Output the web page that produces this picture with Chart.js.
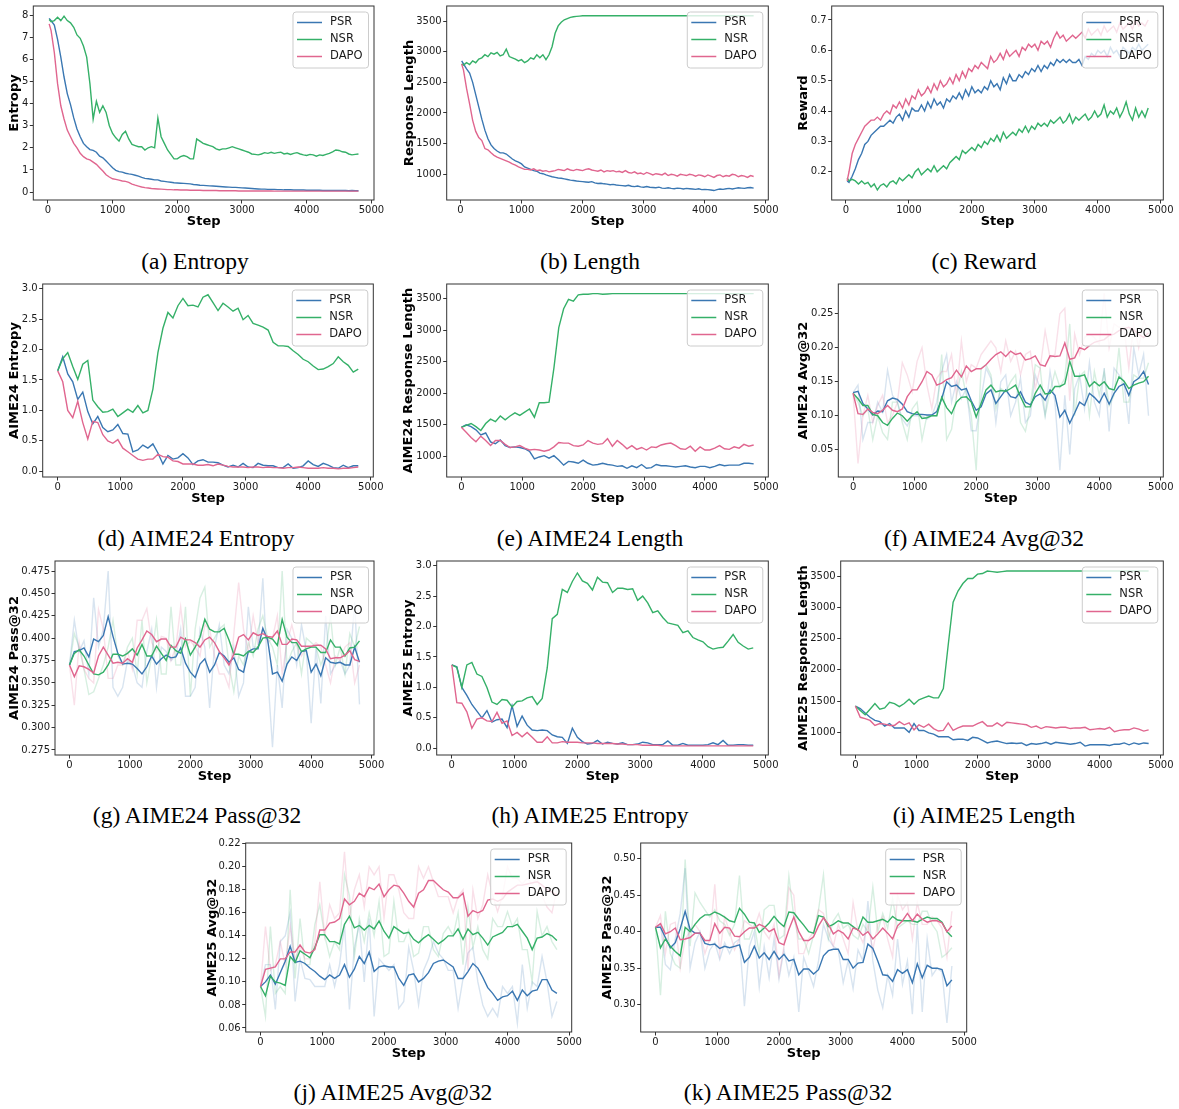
<!DOCTYPE html>
<html>
<head>
<meta charset="utf-8">
<script src="https://cdn.jsdelivr.net/npm/chart.js@4.4.1/dist/chart.umd.min.js"></script>
<style>
  html, body { margin: 0; padding: 0; background: #fff; overflow: hidden; }
  #page { position: relative; width: 1179px; height: 1109px; overflow: hidden; }
  canvas { position: absolute; }
  .cap {
    position: absolute;
    font-family: "Liberation Serif", "Times New Roman", serif;
    font-size: 23.5px;
    color: #000;
    white-space: nowrap;
    transform: translate(-50%, -50%);
  }
</style>
</head>
<body>
<div id="page"></div>
<script>
// ---- x values ----
const TRAIN_STEPS = [20,
  50,100,150,200,250,300,350,400,450,500,
  550,600,650,700,750,800,850,900,950,1000,
  1050,1100,1150,1200,1250,1300,1350,1400,1450,1500,
  1550,1600,1650,1700,1750,1800,1850,1900,1950,2000,
  2050,2100,2150,2200,2250,2300,2350,2400,2450,2500,
  2550,2600,2650,2700,2750,2800,2850,2900,2950,3000,
  3050,3100,3150,3200,3250,3300,3350,3400,3450,3500,
  3550,3600,3650,3700,3750,3800,3850,3900,3950,4000,
  4050,4100,4150,4200,4250,4300,4350,4400,4450,4500,
  4550,4600,4650,4700,4750,4800]

const EVAL_STEPS = [
  0,80,160,240,320,400,480,560,640,720,
  800,880,960,1040,1120,1200,1280,1360,1440,1520,
  1600,1680,1760,1840,1920,2000,2080,2160,2240,2320,
  2400,2480,2560,2640,2720,2800,2880,2960,3040,3120,
  3200,3280,3360,3440,3520,3600,3680,3760,3840,3920,
  4000,4080,4160,4240,4320,4400,4480,4560,4640,4720,
  4800]

// ---- tick labels ----
const STEP_TICKS = [0, 1000, 2000, 3000, 4000, 5000]
const ENT_TICKS = [0, 1, 2, 3, 4, 5, 6, 7, 8]
const LEN_TICKS = [1000, 1500, 2000, 2500, 3000, 3500]
const REW_TICKS = [0.2, 0.3, 0.4, 0.5, 0.6, 0.7]
const AIME_ENT_TICKS = [0, 0.5, 1.0, 1.5, 2.0, 2.5, 3.0]
const A24_AVG_TICKS = [0.05, 0.10, 0.15, 0.20, 0.25]
const A24_PASS_TICKS = [0.275, 0.300, 0.325, 0.350, 0.375, 0.400, 0.425, 0.450, 0.475]
const A25_AVG_TICKS = [0.06, 0.08, 0.10, 0.12, 0.14, 0.16, 0.18, 0.20, 0.22]
const A25_PASS_TICKS = [0.30, 0.35, 0.40, 0.45, 0.50]

// ---- (a) entropy ----
const ENT_PSR = [
  7.85,7.75,7.55,6.9,6.1,5.2,4.45,3.95,3.35,2.85,
  2.5,2.2,2.05,1.92,1.88,1.8,1.62,1.55,1.4,1.25,
  1.1,0.98,0.92,0.9,0.85,0.82,0.8,0.76,0.72,0.66,
  0.62,0.6,0.58,0.55,0.55,0.5,0.48,0.46,0.44,0.42,
  0.41,0.4,0.39,0.38,0.37,0.34,0.33,0.31,0.3,0.29,
  0.28,0.27,0.26,0.25,0.24,0.23,0.22,0.21,0.21,0.2,
  0.19,0.18,0.17,0.16,0.15,0.14,0.13,0.13,0.12,0.12,
  0.12,0.11,0.11,0.1,0.1,0.1,0.09,0.09,0.09,0.09,
  0.08,0.08,0.08,0.08,0.08,0.07,0.07,0.07,0.07,0.07,
  0.07,0.07,0.07,0.06,0.07,0.06,0.06]
const ENT_NSR = [
  7.8,7.7,7.75,7.9,7.75,7.95,7.75,7.65,7.45,7.1,
  6.95,6.6,6.1,4.9,3.3,4.1,3.6,3.9,3.6,3.0,
  2.65,2.45,2.3,2.6,2.75,2.4,2.15,2.1,2.05,2.05,
  1.9,2.0,2.05,2.0,3.35,2.5,2.2,1.9,1.7,1.5,
  1.5,1.6,1.65,1.6,1.5,1.5,2.4,2.3,2.2,2.15,
  2.1,2.05,1.95,1.9,1.95,1.95,2.0,2.05,2.0,1.95,
  1.9,1.85,1.8,1.72,1.7,1.68,1.72,1.78,1.75,1.8,
  1.75,1.78,1.8,1.72,1.75,1.7,1.75,1.78,1.72,1.68,
  1.65,1.7,1.68,1.62,1.68,1.65,1.7,1.75,1.82,1.9,
  1.88,1.82,1.8,1.72,1.68,1.7,1.72]
const ENT_DAPO = [
  7.6,7.3,6.3,4.9,3.9,3.3,2.8,2.5,2.2,2.0,
  1.75,1.6,1.5,1.45,1.35,1.25,1.1,0.95,0.78,0.68,
  0.6,0.57,0.54,0.5,0.48,0.44,0.36,0.31,0.27,0.23,
  0.2,0.18,0.16,0.15,0.14,0.13,0.12,0.11,0.11,0.1,
  0.1,0.09,0.09,0.09,0.08,0.08,0.08,0.08,0.07,0.07,
  0.07,0.07,0.07,0.06,0.06,0.06,0.06,0.06,0.06,0.05,
  0.05,0.05,0.05,0.05,0.05,0.05,0.05,0.05,0.05,0.05,
  0.04,0.04,0.04,0.04,0.04,0.04,0.04,0.04,0.04,0.04,
  0.04,0.04,0.04,0.04,0.04,0.04,0.04,0.04,0.04,0.04,
  0.04,0.04,0.04,0.04,0.04,0.04,0.04]

// ---- (b) response length ----
const LEN_PSR = [
  2850,2800,2720,2650,2500,2300,2100,1900,1720,1580,
  1480,1420,1380,1350,1350,1330,1290,1250,1220,1200,
  1170,1120,1100,1080,1060,1050,1020,1010,990,975,
  960,950,940,935,925,915,905,900,890,885,
  880,875,870,880,860,850,855,845,840,830,
  835,825,820,815,810,820,805,800,810,795,
  790,800,790,785,780,790,775,770,780,770,
  765,775,770,760,770,765,760,755,765,750,
  755,750,745,735,750,760,755,765,770,760,
  770,780,775,770,780,785,775]
const LEN_NSR = [
  2800,2780,2820,2790,2850,2820,2880,2900,2950,2920,
  2980,2960,2990,2930,2950,3040,2920,2900,2880,2850,
  2870,2820,2850,2900,2880,2950,2900,2950,2870,2950,
  3080,3300,3420,3480,3520,3540,3560,3570,3575,3580,
  3585,3585,3585,3585,3585,3585,3585,3585,3585,3585,
  3585,3585,3585,3585,3585,3585,3585,3585,3585,3585,
  3585,3585,3585,3585,3585,3585,3585,3585,3585,3585,
  3585,3585,3585,3585,3585,3585,3585,3585,3585,3585,
  3585,3585,3585,3585,3585,3585,3585,3585,3585,3585,
  3585,3585,3585,3585,3585,3585,3585]
const LEN_DAPO = [
  2800,2700,2400,2150,1880,1700,1600,1550,1420,1400,
  1350,1310,1280,1260,1240,1220,1200,1170,1150,1120,
  1100,1080,1080,1070,1090,1060,1070,1050,1060,1040,
  1050,1060,1080,1070,1060,1090,1070,1060,1080,1070,
  1060,1080,1090,1070,1060,1050,1070,1040,1060,1050,
  1060,1040,1050,1030,1060,1030,1020,1040,1010,1020,
  1000,1030,1010,990,1010,1000,990,1020,980,1000,
  990,970,1000,990,980,1000,990,970,990,980,
  960,990,970,950,980,990,960,980,970,1000,
  990,960,980,970,950,980,965]

// ---- (c) reward ----
const REW_PSR = [
  0.17,0.165,0.185,0.21,0.24,0.26,0.29,0.3,0.32,0.33,
  0.34,0.35,0.35,0.36,0.37,0.36,0.38,0.39,0.37,0.4,
  0.38,0.41,0.4,0.4,0.42,0.4,0.43,0.41,0.44,0.42,
  0.43,0.41,0.44,0.43,0.45,0.44,0.46,0.44,0.47,0.45,
  0.48,0.46,0.47,0.46,0.48,0.47,0.5,0.48,0.49,0.47,
  0.51,0.49,0.52,0.5,0.5,0.52,0.51,0.53,0.52,0.54,
  0.53,0.55,0.53,0.55,0.54,0.56,0.55,0.57,0.56,0.57,
  0.56,0.57,0.56,0.56,0.57,0.55,0.58,0.57,0.59,0.58,
  0.6,0.59,0.6,0.58,0.61,0.59,0.6,0.58,0.61,0.6,
  0.59,0.61,0.6,0.62,0.6,0.61,0.62]
const REW_NSR = [
  0.18,0.17,0.175,0.17,0.16,0.17,0.16,0.165,0.15,0.16,
  0.14,0.155,0.16,0.15,0.165,0.17,0.16,0.18,0.17,0.18,
  0.19,0.18,0.2,0.21,0.19,0.2,0.21,0.2,0.22,0.2,
  0.21,0.22,0.21,0.23,0.24,0.25,0.24,0.27,0.26,0.27,
  0.28,0.27,0.29,0.28,0.3,0.29,0.31,0.3,0.32,0.3,
  0.33,0.31,0.32,0.33,0.32,0.34,0.33,0.35,0.33,0.35,
  0.34,0.36,0.35,0.36,0.35,0.37,0.36,0.37,0.38,0.36,
  0.37,0.39,0.36,0.38,0.37,0.38,0.39,0.37,0.38,0.4,
  0.38,0.39,0.42,0.38,0.4,0.39,0.41,0.38,0.4,0.43,
  0.39,0.37,0.41,0.38,0.4,0.38,0.41]
const REW_DAPO = [
  0.17,0.2,0.26,0.29,0.31,0.33,0.35,0.36,0.37,0.37,
  0.38,0.37,0.39,0.4,0.39,0.42,0.41,0.43,0.41,0.44,
  0.42,0.45,0.44,0.47,0.45,0.46,0.48,0.46,0.49,0.47,
  0.5,0.48,0.49,0.51,0.49,0.52,0.5,0.53,0.51,0.54,
  0.53,0.55,0.54,0.56,0.55,0.54,0.58,0.56,0.57,0.59,
  0.57,0.6,0.58,0.59,0.6,0.58,0.61,0.6,0.62,0.61,
  0.62,0.6,0.63,0.62,0.63,0.61,0.64,0.66,0.64,0.65,
  0.63,0.64,0.65,0.64,0.65,0.66,0.64,0.67,0.65,0.66,
  0.67,0.65,0.68,0.66,0.67,0.68,0.66,0.69,0.67,0.68,
  0.69,0.67,0.7,0.68,0.69,0.68,0.7]

// ---- (d) AIME24 entropy ----
const A24_ENT_PSR = [
  1.65,1.88,1.6,1.47,1.18,1.3,0.98,0.78,0.9,0.72,
  0.65,0.68,0.77,0.62,0.61,0.32,0.35,0.43,0.38,0.45,
  0.3,0.12,0.26,0.2,0.22,0.29,0.22,0.11,0.17,0.19,
  0.15,0.15,0.14,0.1,0.07,0.1,0.07,0.13,0.07,0.06,
  0.13,0.1,0.09,0.09,0.06,0.06,0.12,0.05,0.06,0.09,
  0.17,0.11,0.08,0.13,0.1,0.06,0.05,0.1,0.06,0.09,
  0.09]
const A24_ENT_NSR = [
  1.65,1.85,1.95,1.72,1.51,1.76,1.82,1.17,1.06,0.97,
  0.98,1.02,0.9,0.96,1.02,0.97,1.08,0.96,1.0,1.35,
  1.95,2.35,2.61,2.52,2.72,2.84,2.72,2.73,2.7,2.86,
  2.9,2.77,2.64,2.76,2.7,2.63,2.68,2.49,2.56,2.43,
  2.4,2.37,2.32,2.12,2.06,2.06,2.05,1.98,1.92,1.84,
  1.8,1.73,1.67,1.68,1.72,1.77,1.88,1.8,1.74,1.63,
  1.68]
const A24_ENT_DAPO = [
  1.65,1.47,1.0,0.88,1.15,0.8,0.53,0.82,0.8,0.6,
  0.5,0.46,0.52,0.38,0.32,0.26,0.2,0.18,0.2,0.2,
  0.28,0.24,0.23,0.17,0.16,0.12,0.12,0.12,0.1,0.1,
  0.11,0.09,0.12,0.1,0.08,0.07,0.07,0.07,0.06,0.07,
  0.07,0.06,0.07,0.06,0.06,0.05,0.06,0.06,0.07,0.06,
  0.05,0.05,0.05,0.06,0.05,0.05,0.04,0.05,0.05,0.06,
  0.07]

// ---- (e) AIME24 length ----
const A24_LEN_PSR = [
  1460,1500,1470,1420,1340,1370,1230,1200,1260,1170,
  1140,1150,1140,1120,1080,960,990,1010,970,1010,
  940,860,920,910,890,940,890,860,870,890,
  870,860,840,850,810,850,820,870,810,820,
  870,850,850,840,830,840,850,830,820,840,
  840,820,840,870,850,860,860,860,890,890,
  880]
const A24_LEN_NSR = [
  1460,1490,1520,1470,1410,1520,1590,1550,1640,1580,
  1640,1690,1650,1700,1750,1620,1850,1850,1860,2400,
  3040,3340,3490,3460,3560,3570,3570,3580,3580,3570,
  3575,3580,3580,3580,3580,3580,3580,3580,3580,3580,
  3580,3580,3580,3580,3580,3580,3580,3580,3580,3580,
  3580,3580,3580,3580,3580,3580,3580,3580,3580,3580,
  3580]
const A24_LEN_DAPO = [
  1460,1380,1300,1230,1320,1250,1170,1250,1250,1190,
  1140,1150,1170,1130,1100,1110,1100,1080,1100,1150,
  1220,1210,1210,1170,1160,1180,1250,1210,1190,1200,
  1280,1160,1250,1190,1120,1170,1110,1140,1100,1150,
  1140,1180,1200,1210,1170,1120,1110,1160,1080,1150,
  1100,1100,1130,1170,1120,1110,1150,1130,1190,1160,
  1180]

// ---- (f) AIME24 avg@32 (smoothed + raw) ----
const A24_AVG_PSR = [
  0.134,0.136,0.118,0.11,0.101,0.107,0.106,0.122,0.126,0.124,
  0.117,0.106,0.103,0.102,0.102,0.101,0.101,0.106,0.125,0.15,
  0.143,0.145,0.138,0.14,0.122,0.108,0.113,0.132,0.138,0.118,
  0.128,0.138,0.128,0.126,0.135,0.12,0.116,0.128,0.132,0.123,
  0.138,0.13,0.098,0.108,0.089,0.104,0.12,0.115,0.133,0.127,
  0.119,0.133,0.117,0.133,0.143,0.147,0.13,0.15,0.155,0.165,
  0.146]
const A24_AVG_NSR = [
  0.133,0.125,0.115,0.115,0.102,0.1,0.09,0.086,0.096,0.104,
  0.1,0.092,0.1,0.106,0.096,0.097,0.1,0.1,0.127,0.112,
  0.103,0.12,0.127,0.128,0.12,0.098,0.118,0.138,0.145,0.135,
  0.137,0.136,0.14,0.145,0.128,0.113,0.113,0.133,0.145,0.132,
  0.133,0.143,0.143,0.147,0.18,0.158,0.158,0.16,0.143,0.15,
  0.144,0.15,0.14,0.138,0.157,0.151,0.14,0.145,0.148,0.15,
  0.158]
const A24_AVG_DAPO = [
  0.133,0.103,0.102,0.11,0.105,0.103,0.108,0.115,0.108,0.106,
  0.11,0.128,0.138,0.138,0.15,0.165,0.16,0.145,0.148,0.153,
  0.156,0.167,0.157,0.173,0.165,0.169,0.169,0.175,0.183,0.19,
  0.194,0.187,0.195,0.19,0.192,0.182,0.184,0.188,0.175,0.173,
  0.188,0.187,0.188,0.207,0.183,0.185,0.2,0.197,0.203,0.208,
  0.21,0.212,0.218,0.22,0.225,0.228,0.23,0.226,0.22,0.215,
  0.222]
const A24_AVG_PSR_RAW = [
  0.134,0.145,0.065,0.09,0.09,0.12,0.105,0.167,0.13,0.12,
  0.095,0.085,0.1,0.1,0.1,0.095,0.1,0.12,0.165,0.19,
  0.12,0.15,0.125,0.14,0.078,0.078,0.125,0.17,0.155,0.09,
  0.15,0.16,0.1,0.12,0.155,0.09,0.1,0.16,0.14,0.1,
  0.165,0.12,0.02,0.13,0.043,0.14,0.16,0.11,0.178,0.12,
  0.1,0.17,0.077,0.17,0.16,0.15,0.088,0.2,0.16,0.19,
  0.1]
const A24_AVG_NSR_RAW = [
  0.133,0.12,0.1,0.11,0.065,0.1,0.075,0.065,0.12,0.12,
  0.09,0.065,0.11,0.12,0.065,0.1,0.1,0.1,0.19,0.065,
  0.08,0.13,0.165,0.13,0.1,0.02,0.17,0.175,0.16,0.11,
  0.14,0.135,0.15,0.16,0.09,0.077,0.113,0.175,0.17,0.1,
  0.135,0.165,0.142,0.155,0.235,0.1,0.158,0.165,0.1,0.165,
  0.13,0.165,0.115,0.13,0.2,0.12,0.12,0.16,0.155,0.155,
  0.178]
const A24_AVG_DAPO_RAW = [
  0.133,0.03,0.1,0.13,0.09,0.115,0.13,0.09,0.1,0.12,
  0.178,0.16,0.135,0.18,0.2,0.145,0.11,0.155,0.165,0.165,
  0.19,0.13,0.21,0.15,0.175,0.17,0.19,0.2,0.21,0.2,
  0.165,0.21,0.18,0.195,0.16,0.19,0.195,0.14,0.17,0.225,
  0.185,0.19,0.25,0.258,0.122,0.22,0.19,0.215,0.22,0.215,
  0.205,0.28,0.2,0.235,0.23,0.23,0.17,0.235,0.2,0.24,
  0.225]

// ---- (g) AIME24 pass@32 ----
const A24_PASS_PSR = [
  0.37,0.385,0.386,0.389,0.379,0.399,0.396,0.403,0.424,0.402,
  0.383,0.371,0.372,0.371,0.366,0.36,0.368,0.38,0.371,0.377,
  0.381,0.378,0.379,0.389,0.372,0.362,0.356,0.371,0.377,0.362,
  0.37,0.384,0.38,0.373,0.378,0.365,0.362,0.385,0.388,0.388,
  0.411,0.398,0.36,0.362,0.352,0.371,0.379,0.375,0.385,0.386,
  0.362,0.371,0.358,0.378,0.373,0.372,0.373,0.37,0.37,0.39,
  0.373]
const A24_PASS_NSR = [
  0.37,0.383,0.387,0.38,0.37,0.36,0.359,0.362,0.37,0.382,
  0.382,0.38,0.383,0.388,0.381,0.393,0.38,0.38,0.391,0.383,
  0.375,0.392,0.386,0.383,0.399,0.381,0.39,0.401,0.421,0.41,
  0.407,0.407,0.411,0.398,0.382,0.382,0.38,0.385,0.384,0.39,
  0.4,0.401,0.399,0.392,0.421,0.401,0.395,0.395,0.385,0.388,
  0.39,0.39,0.384,0.384,0.398,0.39,0.39,0.38,0.389,0.39,
  0.397]
const A24_PASS_DAPO = [
  0.37,0.357,0.369,0.368,0.365,0.361,0.38,0.39,0.381,0.372,
  0.373,0.372,0.377,0.373,0.389,0.398,0.408,0.404,0.396,0.399,
  0.399,0.39,0.39,0.401,0.398,0.398,0.395,0.39,0.398,0.401,
  0.395,0.385,0.378,0.37,0.382,0.401,0.404,0.398,0.406,0.403,
  0.405,0.402,0.401,0.408,0.393,0.393,0.399,0.398,0.391,0.391,
  0.391,0.392,0.392,0.388,0.377,0.378,0.378,0.381,0.386,0.376,
  0.374]
const A24_PASS_PSR_RAW = [
  0.37,0.42,0.385,0.397,0.36,0.445,0.39,0.41,0.475,0.345,
  0.335,0.345,0.375,0.37,0.35,0.345,0.385,0.41,0.345,0.39,
  0.385,0.375,0.38,0.41,0.335,0.335,0.345,0.41,0.39,0.322,
  0.39,0.415,0.37,0.36,0.39,0.335,0.35,0.435,0.39,0.39,
  0.467,0.36,0.278,0.37,0.322,0.41,0.4,0.37,0.415,0.385,
  0.305,0.39,0.327,0.425,0.36,0.37,0.375,0.36,0.37,0.44,
  0.326]
const A24_PASS_NSR_RAW = [
  0.37,0.405,0.39,0.365,0.337,0.34,0.355,0.37,0.39,0.42,
  0.38,0.37,0.39,0.4,0.36,0.42,0.35,0.38,0.42,0.36,
  0.36,0.435,0.37,0.37,0.435,0.335,0.41,0.445,0.457,0.39,
  0.4,0.41,0.415,0.37,0.34,0.38,0.37,0.395,0.38,0.41,
  0.425,0.4,0.39,0.37,0.475,0.37,0.385,0.395,0.36,0.4,
  0.395,0.39,0.37,0.385,0.425,0.37,0.39,0.36,0.405,0.39,
  0.413]
const A24_PASS_DAPO_RAW = [
  0.37,0.325,0.395,0.365,0.355,0.35,0.432,0.41,0.355,0.355,
  0.37,0.37,0.385,0.365,0.42,0.42,0.433,0.395,0.385,0.402,
  0.4,0.375,0.39,0.435,0.39,0.397,0.39,0.38,0.415,0.41,
  0.38,0.36,0.36,0.345,0.405,0.462,0.41,0.385,0.425,0.395,
  0.41,0.395,0.4,0.425,0.36,0.395,0.415,0.393,0.38,0.39,
  0.39,0.395,0.39,0.37,0.35,0.38,0.375,0.39,0.395,0.35,
  0.37]

// ---- (h) AIME25 entropy ----
const A25_ENT_PSR = [
  1.37,1.34,1.0,0.87,0.72,0.61,0.5,0.62,0.43,0.47,
  0.48,0.34,0.7,0.36,0.53,0.38,0.3,0.29,0.3,0.29,
  0.22,0.19,0.18,0.08,0.33,0.18,0.11,0.07,0.08,0.13,
  0.07,0.1,0.08,0.07,0.09,0.06,0.06,0.07,0.1,0.09,
  0.06,0.06,0.06,0.12,0.05,0.05,0.08,0.05,0.05,0.05,
  0.05,0.06,0.09,0.06,0.13,0.05,0.05,0.06,0.06,0.05,
  0.05]
const A25_ENT_NSR = [
  1.37,1.33,1.0,1.37,1.41,1.22,1.18,1.0,0.76,0.72,
  0.8,0.79,0.68,0.77,0.78,0.83,0.85,0.72,0.82,1.32,
  2.13,2.2,2.61,2.56,2.74,2.88,2.75,2.71,2.6,2.81,
  2.73,2.72,2.56,2.63,2.63,2.61,2.62,2.43,2.5,2.39,
  2.23,2.26,2.15,2.06,2.04,2.02,1.9,1.93,1.82,1.78,
  1.75,1.67,1.63,1.65,1.66,1.76,1.87,1.74,1.68,1.63,
  1.65]
const A25_ENT_DAPO = [
  1.37,0.75,0.74,0.6,0.33,0.48,0.5,0.45,0.44,0.59,
  0.41,0.45,0.21,0.26,0.19,0.26,0.18,0.1,0.1,0.19,
  0.09,0.09,0.11,0.1,0.1,0.1,0.09,0.09,0.09,0.08,
  0.08,0.08,0.08,0.07,0.07,0.06,0.06,0.06,0.05,0.05,
  0.05,0.05,0.04,0.04,0.04,0.04,0.04,0.04,0.04,0.04,
  0.04,0.04,0.04,0.04,0.04,0.04,0.04,0.04,0.04,0.04,
  0.04]

// ---- (i) AIME25 length ----
const A25_LEN_PSR = [
  1420,1380,1310,1240,1190,1170,1100,1140,1070,1070,
  1070,1000,1140,1030,1030,990,970,930,930,930,
  880,890,890,870,920,910,870,830,850,860,
  840,820,830,820,830,790,820,810,820,840,
  810,840,830,820,810,820,840,780,800,800,
  800,800,790,810,810,830,800,830,810,830,
  820]
const A25_LEN_NSR = [
  1420,1350,1280,1370,1460,1370,1390,1480,1460,1410,
  1460,1530,1450,1520,1550,1580,1550,1550,1700,2400,
  3080,3260,3380,3460,3460,3530,3540,3580,3570,3560,
  3570,3580,3580,3580,3580,3580,3580,3580,3580,3580,
  3580,3580,3580,3580,3580,3580,3580,3580,3580,3580,
  3580,3580,3580,3580,3580,3580,3580,3580,3580,3580,
  3580]
const A25_LEN_DAPO = [
  1420,1240,1220,1190,1110,1140,1130,1110,1110,1170,
  1120,1150,1040,1120,1080,1130,1060,1020,1030,1150,
  1030,1070,1100,1100,1100,1140,1170,1100,1100,1150,
  1100,1160,1150,1140,1130,1120,1080,1100,1060,1090,
  1080,1070,1080,1080,1060,1070,1070,1080,1040,1050,
  1060,1050,1080,1010,1030,1040,1040,1070,1050,1020,
  1040]

// ---- (j) AIME25 avg@32 ----
const A25_AVG_PSR = [
  0.096,0.1,0.106,0.098,0.108,0.118,0.131,0.117,0.118,0.116,
  0.112,0.109,0.105,0.102,0.106,0.103,0.106,0.115,0.104,0.111,
  0.122,0.116,0.126,0.109,0.113,0.114,0.113,0.113,0.103,0.097,
  0.106,0.107,0.1,0.103,0.108,0.116,0.118,0.119,0.116,0.113,
  0.103,0.103,0.109,0.116,0.112,0.104,0.095,0.09,0.084,0.087,
  0.088,0.092,0.084,0.093,0.088,0.092,0.093,0.102,0.102,0.093,
  0.09]
const A25_AVG_NSR = [
  0.096,0.088,0.105,0.1,0.099,0.097,0.122,0.117,0.127,0.124,
  0.121,0.13,0.141,0.141,0.135,0.135,0.133,0.15,0.157,0.147,
  0.149,0.145,0.149,0.146,0.153,0.144,0.138,0.148,0.145,0.142,
  0.143,0.137,0.134,0.138,0.141,0.137,0.133,0.136,0.14,0.14,
  0.146,0.137,0.146,0.141,0.143,0.138,0.132,0.139,0.141,0.143,
  0.148,0.148,0.15,0.144,0.138,0.128,0.138,0.139,0.142,0.14,
  0.136]
const A25_AVG_DAPO = [
  0.096,0.111,0.112,0.113,0.12,0.12,0.126,0.126,0.132,0.126,
  0.125,0.128,0.145,0.145,0.151,0.152,0.155,0.172,0.167,0.17,
  0.177,0.174,0.182,0.18,0.185,0.174,0.18,0.184,0.183,0.177,
  0.17,0.165,0.177,0.18,0.188,0.188,0.184,0.18,0.178,0.173,
  0.173,0.177,0.157,0.162,0.16,0.162,0.171,0.172,0.17,0.172,
  0.178,0.181,0.184,0.184,0.185,0.186,0.187,0.184,0.18,0.178,
  0.175]
const A25_AVG_PSR_RAW = [
  0.096,0.115,0.115,0.076,0.135,0.14,0.16,0.083,0.12,0.103,
  0.102,0.096,0.096,0.096,0.115,0.096,0.115,0.15,0.076,0.13,
  0.15,0.1,0.155,0.07,0.12,0.115,0.11,0.115,0.077,0.083,
  0.13,0.11,0.08,0.11,0.12,0.135,0.125,0.12,0.11,0.11,
  0.077,0.103,0.125,0.13,0.1,0.08,0.07,0.077,0.07,0.096,
  0.09,0.096,0.064,0.115,0.077,0.1,0.096,0.122,0.1,0.07,
  0.083]
const A25_AVG_NSR_RAW = [
  0.096,0.07,0.148,0.09,0.096,0.09,0.18,0.103,0.155,0.115,
  0.115,0.15,0.167,0.14,0.122,0.135,0.128,0.193,0.175,0.122,
  0.155,0.135,0.16,0.14,0.17,0.122,0.125,0.17,0.135,0.135,
  0.145,0.122,0.125,0.148,0.148,0.128,0.122,0.142,0.148,0.14,
  0.16,0.115,0.165,0.13,0.148,0.128,0.12,0.155,0.148,0.148,
  0.161,0.148,0.155,0.128,0.128,0.1,0.161,0.14,0.148,0.135,
  0.128]
const A25_AVG_DAPO_RAW = [
  0.096,0.148,0.11,0.115,0.135,0.115,0.148,0.12,0.13,0.12,
  0.12,0.135,0.187,0.14,0.167,0.155,0.16,0.213,0.155,0.18,
  0.193,0.165,0.2,0.193,0.2,0.155,0.193,0.193,0.18,0.16,
  0.155,0.155,0.2,0.19,0.2,0.187,0.174,0.174,0.174,0.16,
  0.174,0.18,0.11,0.18,0.155,0.167,0.193,0.175,0.161,0.175,
  0.2,0.19,0.19,0.185,0.19,0.185,0.19,0.175,0.165,0.16,
  0.18]

// ---- (k) AIME25 pass@32 ----
const A25_PASS_PSR = [
  0.406,0.406,0.392,0.378,0.385,0.404,0.428,0.403,0.398,0.398,
  0.384,0.382,0.383,0.377,0.38,0.378,0.38,0.382,0.358,0.365,
  0.38,0.364,0.371,0.362,0.373,0.362,0.369,0.36,0.362,0.341,
  0.349,0.349,0.342,0.348,0.367,0.374,0.376,0.376,0.362,0.362,
  0.35,0.357,0.358,0.383,0.377,0.36,0.341,0.34,0.332,0.348,
  0.343,0.348,0.33,0.356,0.337,0.354,0.35,0.35,0.348,0.326,
  0.334]
const A25_PASS_NSR = [
  0.406,0.378,0.39,0.38,0.373,0.367,0.406,0.4,0.41,0.418,
  0.423,0.423,0.427,0.424,0.42,0.415,0.413,0.432,0.424,0.413,
  0.412,0.399,0.405,0.412,0.421,0.413,0.407,0.427,0.426,0.417,
  0.409,0.4,0.398,0.422,0.42,0.407,0.41,0.415,0.412,0.412,
  0.407,0.402,0.42,0.413,0.413,0.415,0.417,0.413,0.421,0.416,
  0.415,0.415,0.415,0.413,0.417,0.42,0.418,0.418,0.413,0.4,
  0.393]
const A25_PASS_DAPO = [
  0.406,0.411,0.397,0.4,0.405,0.389,0.39,0.392,0.398,0.398,
  0.388,0.388,0.411,0.398,0.406,0.405,0.394,0.393,0.4,0.405,
  0.405,0.41,0.407,0.4,0.404,0.385,0.382,0.403,0.42,0.4,
  0.388,0.388,0.393,0.408,0.419,0.41,0.397,0.402,0.398,0.39,
  0.405,0.403,0.395,0.4,0.39,0.397,0.405,0.398,0.39,0.408,
  0.415,0.425,0.415,0.424,0.417,0.413,0.415,0.415,0.412,0.4,
  0.408]
const A25_PASS_PSR_RAW = [
  0.406,0.41,0.355,0.348,0.39,0.425,0.487,0.35,0.385,0.4,
  0.35,0.375,0.385,0.362,0.385,0.37,0.385,0.39,0.298,0.38,
  0.4,0.324,0.38,0.337,0.39,0.335,0.375,0.34,0.365,0.29,
  0.365,0.345,0.325,0.36,0.41,0.39,0.38,0.375,0.33,0.36,
  0.322,0.375,0.36,0.442,0.36,0.32,0.296,0.34,0.313,0.39,
  0.328,0.36,0.287,0.41,0.29,0.39,0.34,0.35,0.345,0.275,
  0.353]
const A25_PASS_NSR_RAW = [
  0.406,0.313,0.428,0.37,0.355,0.35,0.499,0.38,0.453,0.44,
  0.43,0.42,0.43,0.415,0.41,0.395,0.41,0.477,0.39,0.39,
  0.41,0.37,0.43,0.436,0.436,0.39,0.395,0.476,0.42,0.39,
  0.39,0.37,0.395,0.43,0.478,0.39,0.415,0.425,0.405,0.41,
  0.395,0.39,0.41,0.4,0.461,0.4,0.425,0.405,0.445,0.405,
  0.41,0.415,0.41,0.41,0.428,0.428,0.41,0.4,0.365,0.37,
  0.378]
const A25_PASS_DAPO_RAW = [
  0.406,0.422,0.37,0.41,0.413,0.35,0.39,0.4,0.41,0.4,
  0.37,0.39,0.465,0.37,0.42,0.4,0.375,0.39,0.415,0.41,
  0.405,0.425,0.4,0.39,0.41,0.34,0.38,0.46,0.45,0.37,
  0.37,0.39,0.4,0.43,0.425,0.4,0.38,0.41,0.39,0.37,
  0.44,0.4,0.385,0.41,0.375,0.41,0.42,0.39,0.365,0.45,
  0.43,0.44,0.39,0.44,0.41,0.41,0.42,0.415,0.405,0.365,
  0.428]

// ---- styling ----
const COLORS = { PSR: '#3a77b2', NSR: '#35b068', DAPO: '#e0668f' }
const ORDER = { PSR: 3, NSR: 2, DAPO: 1 }
const TITLE_SIZE = 13
const TICK_SIZE = 10
Chart.defaults.font.family = '"DejaVu Sans", "Liberation Sans", sans-serif'

const fade = (hex, a) => {
  const n = parseInt(hex.slice(1), 16)
  return `rgba(${n >> 16}, ${(n >> 8) & 255}, ${n & 255}, ${a})`
}

const points = (xs, ys) => ys.map((y, i) => ({ x: xs[i], y: y }))

const lineSet = (label, xs, ys, faint) => ({
  label: label,
  data: points(xs, ys),
  borderColor: faint ? fade(COLORS[label], 0.2) : COLORS[label],
  borderWidth: 1.4,
  pointRadius: 0,
  tension: 0,
  faint: faint,
  order: faint ? 10 + ORDER[label] : ORDER[label],
})

// draws the matplotlib style legend box and the four spines
const frameAndLegend = {
  id: 'frameAndLegend',
  afterDatasetsDraw(chart) {
    const { ctx, chartArea: a } = chart
    const items = chart.data.datasets.filter(d => !d.faint)
    ctx.save()
    ctx.font = '11.5px "DejaVu Sans"'
    const textW = Math.max(...items.map(d => ctx.measureText(d.label).width))
    const w = 37 + textW + 6, h = 56
    const x = a.right - 5.5 - w, y = a.top + 6
    ctx.beginPath()
    ctx.roundRect(x, y, w, h, 3)
    ctx.fillStyle = 'rgba(255,255,255,0.8)'
    ctx.fill()
    ctx.strokeStyle = '#cccccc'
    ctx.lineWidth = 1
    ctx.stroke()
    items.forEach((d, i) => {
      const cy = y + 10.5 + 17 * i
      ctx.beginPath()
      ctx.moveTo(x + 4, cy)
      ctx.lineTo(x + 29, cy)
      ctx.strokeStyle = d.borderColor
      ctx.lineWidth = 1.5
      ctx.stroke()
      ctx.fillStyle = '#1a1a1a'
      ctx.textBaseline = 'middle'
      ctx.fillText(d.label, x + 37, cy)
    })
    ctx.strokeStyle = '#333'
    ctx.lineWidth = 1
    ctx.strokeRect(a.left, a.top, a.right - a.left, a.bottom - a.top)
    ctx.restore()
  }
}

// panel layout: axes box [left, top, right, bottom] in page pixels
const PANELS = [
  { box: [33.3, 6, 374, 200], x: TRAIN_STEPS, xr: [-225, 5040], yr: [-0.36, 8.41], yt: ENT_TICKS, dec: 0, d: 18.3,
    ylabel: 'Entropy', cap: '(a) Entropy', cx: 195, cy: 261,
    series: [['PSR', ENT_PSR], ['NSR', ENT_NSR], ['DAPO', ENT_DAPO]] },
  { box: [446.7, 6, 768.3, 200], x: TRAIN_STEPS, xr: [-225, 5040], yr: [581, 3745], yt: LEN_TICKS, dec: 0, d: 36.7,
    ylabel: 'Response Length', cap: '(b) Length', cx: 590, cy: 261,
    series: [['PSR', LEN_PSR], ['NSR', LEN_NSR], ['DAPO', LEN_DAPO]] },
  { box: [831.7, 6, 1163.3, 200], x: TRAIN_STEPS, xr: [-225, 5040], yr: [0.107, 0.746], yt: REW_TICKS, dec: 1, d: 28.4,
    ylabel: 'Reward', cap: '(c) Reward', cx: 984, cy: 261,
    series: [['PSR', REW_PSR], ['NSR', REW_NSR], ['DAPO', REW_DAPO]] },
  { box: [42.7, 284, 373.3, 477], x: EVAL_STEPS, xr: [-240, 5040], yr: [-0.094, 3.077], yt: AIME_ENT_TICKS, dec: 1, d: 27.7,
    ylabel: 'AIME24 Entropy', cap: '(d) AIME24 Entropy', cx: 196, cy: 538,
    series: [['PSR', A24_ENT_PSR], ['NSR', A24_ENT_NSR], ['DAPO', A24_ENT_DAPO]] },
  { box: [446.7, 284, 768.3, 477], x: EVAL_STEPS, xr: [-240, 5040], yr: [672, 3733], yt: LEN_TICKS, dec: 0, d: 37.7,
    ylabel: 'AIME24 Response Length', cap: '(e) AIME24 Length', cx: 590, cy: 538,
    series: [['PSR', A24_LEN_PSR], ['NSR', A24_LEN_NSR], ['DAPO', A24_LEN_DAPO]] },
  { box: [838.3, 284, 1163.3, 477], x: EVAL_STEPS, xr: [-240, 5040], yr: [0.0099, 0.2937], yt: A24_AVG_TICKS, dec: 2, d: 34.3,
    ylabel: 'AIME24 Avg@32', cap: '(f) AIME24 Avg@32', cx: 984, cy: 538,
    series: [['PSR', A24_AVG_PSR, A24_AVG_PSR_RAW], ['NSR', A24_AVG_NSR, A24_AVG_NSR_RAW], ['DAPO', A24_AVG_DAPO, A24_AVG_DAPO_RAW]] },
  { box: [55, 561, 374, 755], x: EVAL_STEPS, xr: [-240, 5040], yr: [0.2694, 0.4862], yt: A24_PASS_TICKS, dec: 3, d: 40,
    ylabel: 'AIME24 Pass@32', cap: '(g) AIME24 Pass@32', cx: 197, cy: 815,
    series: [['PSR', A24_PASS_PSR, A24_PASS_PSR_RAW], ['NSR', A24_PASS_NSR, A24_PASS_NSR_RAW], ['DAPO', A24_PASS_DAPO, A24_PASS_DAPO_RAW]] },
  { box: [436.7, 561, 768.3, 755], x: EVAL_STEPS, xr: [-240, 5040], yr: [-0.11, 3.077], yt: AIME_ENT_TICKS, dec: 1, d: 27.7,
    ylabel: 'AIME25 Entropy', cap: '(h) AIME25 Entropy', cx: 590, cy: 815,
    series: [['PSR', A25_ENT_PSR], ['NSR', A25_ENT_NSR], ['DAPO', A25_ENT_DAPO]] },
  { box: [840.7, 561, 1163.3, 755], x: EVAL_STEPS, xr: [-240, 5040], yr: [637, 3740], yt: LEN_TICKS, dec: 0, d: 36.7,
    ylabel: 'AIME25 Response Length', cap: '(i) AIME25 Length', cx: 984, cy: 815,
    series: [['PSR', A25_LEN_PSR], ['NSR', A25_LEN_NSR], ['DAPO', A25_LEN_DAPO]] },
  { box: [245.7, 843, 571.7, 1032], x: EVAL_STEPS, xr: [-240, 5040], yr: [0.0565, 0.2206], yt: A25_AVG_TICKS, dec: 2, d: 33,
    ylabel: 'AIME25 Avg@32', cap: '(j) AIME25 Avg@32', cx: 393, cy: 1092,
    series: [['PSR', A25_AVG_PSR, A25_AVG_PSR_RAW], ['NSR', A25_AVG_NSR, A25_AVG_NSR_RAW], ['DAPO', A25_AVG_DAPO, A25_AVG_DAPO_RAW]] },
  { box: [640.7, 843, 966.7, 1032], x: EVAL_STEPS, xr: [-240, 5040], yr: [0.2626, 0.5215], yt: A25_PASS_TICKS, dec: 2, d: 33,
    ylabel: 'AIME25 Pass@32', cap: '(k) AIME25 Pass@32', cx: 788, cy: 1092,
    series: [['PSR', A25_PASS_PSR, A25_PASS_PSR_RAW], ['NSR', A25_PASS_NSR, A25_PASS_NSR_RAW], ['DAPO', A25_PASS_DAPO, A25_PASS_DAPO_RAW]] },
]

const page = document.getElementById('page')

const axisStyle = () => ({
  grid: { drawOnChartArea: false, drawTicks: true, tickLength: 3.5, color: '#333', lineWidth: 1 },
  border: { display: false },
})

const drawPanel = (p) => {
  const [L, T, R, B] = p.box
  const titleHalf = TITLE_SIZE * 1.2 / 2
  const cl = Math.round(L - p.d - titleHalf)
  const ct = Math.round(T - 8)
  const w = Math.round(R - cl + 20)
  const h = Math.round(B - ct + 21 + titleHalf)

  const canvas = document.createElement('canvas')
  canvas.width = w
  canvas.height = h
  canvas.style.left = cl + 'px'
  canvas.style.top = ct + 'px'
  canvas.style.width = w + 'px'
  canvas.style.height = h + 'px'
  page.appendChild(canvas)

  const datasets = []
  p.series.forEach(s => { if (s[2]) datasets.push(lineSet(s[0], p.x, s[2], true)) })
  p.series.forEach(s => datasets.push(lineSet(s[0], p.x, s[1], false)))

  new Chart(canvas.getContext('2d'), {
    type: 'line',
    data: { datasets: datasets },
    options: {
      responsive: false,
      animation: false,
      devicePixelRatio: 1,
      layout: { padding: { left: 0, top: T - ct, right: w - (R - cl), bottom: 0 } },
      plugins: { legend: { display: false }, tooltip: { enabled: false } },
      scales: {
        x: {
          type: 'linear',
          min: p.xr[0],
          max: p.xr[1],
          afterBuildTicks: s => { s.ticks = STEP_TICKS.map(v => ({ value: v })) },
          afterFit: s => { s.height = h - (B - ct) },
          ticks: { autoSkip: false, maxRotation: 0, padding: 0.5,
            color: '#1a1a1a', font: { size: TICK_SIZE }, callback: v => v.toFixed(0) },
          title: { display: true, text: 'Step', color: '#000', padding: 0, font: { size: TITLE_SIZE, weight: 'bold' } },
          ...axisStyle(),
        },
        y: {
          type: 'linear',
          min: p.yr[0],
          max: p.yr[1],
          afterBuildTicks: s => { s.ticks = p.yt.map(v => ({ value: v })) },
          afterFit: s => { s.width = L - cl },
          ticks: { autoSkip: false, padding: 1.5,
            color: '#1a1a1a', font: { size: TICK_SIZE }, callback: v => v.toFixed(p.dec) },
          title: { display: true, text: p.ylabel, color: '#000', padding: 0, font: { size: TITLE_SIZE, weight: 'bold' } },
          ...axisStyle(),
        },
      },
    },
    plugins: [frameAndLegend],
  })

  const cap = document.createElement('div')
  cap.className = 'cap'
  cap.textContent = p.cap
  cap.style.left = p.cx + 'px'
  cap.style.top = p.cy + 'px'
  page.appendChild(cap)
}

PANELS.forEach(drawPanel)
</script>
</body>
</html>
